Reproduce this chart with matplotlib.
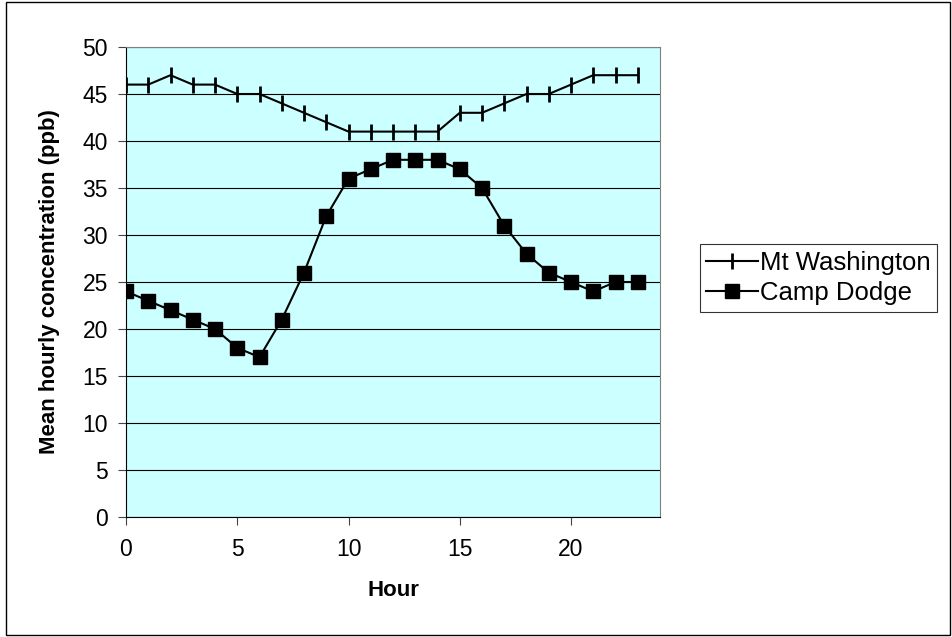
import matplotlib
matplotlib.use("Agg")
import matplotlib.pyplot as plt
from matplotlib.patches import Rectangle

plt.rcParams['font.family'] = ['Liberation Sans', 'DejaVu Sans']

hours = list(range(24))
mt_washington = [46, 46, 47, 46, 46, 45, 45, 44, 43, 42, 41, 41,
                 41, 41, 41, 43, 43, 44, 45, 45, 46, 47, 47, 47]
camp_dodge = [24, 23, 22, 21, 20, 18, 17, 21, 26, 32, 36, 37,
              38, 38, 38, 37, 35, 31, 28, 26, 25, 24, 25, 25]

fig = plt.figure(figsize=(9.53, 6.37), dpi=100)
ax = fig.add_axes([126/953, 1-517/637, (660-126)/953, (517-47)/637])
ax.set_facecolor('#CCFFFF')

ax.plot(hours, mt_washington, color='black', lw=1.5, marker='|', ms=12, mew=2,
        label='Mt Washington', zorder=3)
ax.plot(hours, camp_dodge, color='black', lw=1.5, marker='s', ms=10,
        label='Camp Dodge', zorder=3)

ax.set_xlim(0, 24)
ax.set_ylim(0, 50)
ax.set_xticks([0, 5, 10, 15, 20])
ax.set_yticks(range(0, 51, 5))
ax.yaxis.grid(True, color='black', lw=0.8)
ax.set_axisbelow(True)
ax.tick_params(axis='both', labelsize=16.5, direction='out', length=6, color='#444444', pad=7)
ax.tick_params(axis='x', pad=9)

for s in ['top', 'right']:
    ax.spines[s].set_color('#808080')
for s in ['left', 'bottom']:
    ax.spines[s].set_color('black')

ax.set_xlabel('Hour', fontsize=16, fontweight='bold', labelpad=14)
ax.set_ylabel('Mean hourly concentration (ppb)', fontsize=16, fontweight='bold', labelpad=16)

leg = ax.legend(loc='center left', bbox_to_anchor=(700/953, 1-278/637),
                bbox_transform=fig.transFigure, fontsize=18.5, frameon=True,
                fancybox=False, edgecolor='black', borderpad=0.25, borderaxespad=0,
                handlelength=2.0, handletextpad=0.1, labelspacing=0.25)
leg.get_frame().set_linewidth(0.8)

fig.patches.append(Rectangle((6/953, 2/637), 944/953, 633/637, transform=fig.transFigure,
                             fill=False, edgecolor='black', lw=1))

fig.savefig('out.png', dpi=100)
